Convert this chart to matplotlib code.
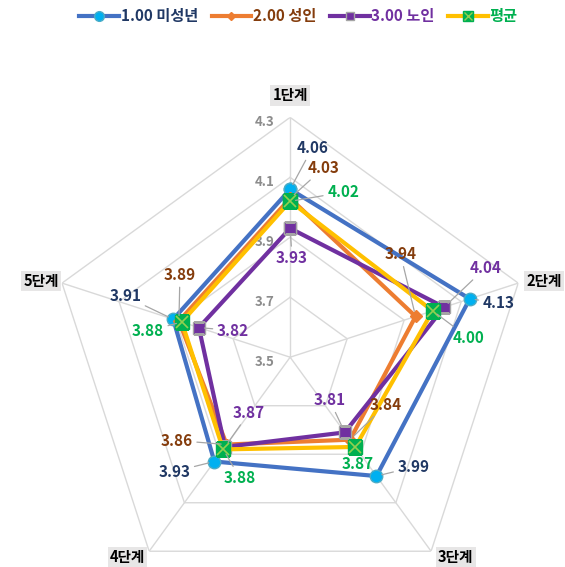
import numpy as np
import matplotlib.pyplot as plt
from matplotlib.lines import Line2D
from matplotlib.legend_handler import HandlerTuple

plt.rcParams['font.family'] = ['Noto Sans CJK KR', 'DejaVu Sans']

# data
categories = ['1단계', '2단계', '3단계', '4단계', '5단계']
series_names = ['1.00 미성년', '2.00 성인', '3.00 노인', '평균']
minor = [4.06, 4.13, 3.99, 3.93, 3.91]
adult = [4.03, 3.94, 3.84, 3.86, 3.89]
senior = [3.93, 4.04, 3.81, 3.87, 3.82]
mean = [4.02, 4.00, 3.87, 3.88, 3.88]
r_ticks = [3.5, 3.7, 3.9, 4.1, 4.3]

# styles
line_colors = ['#4472C4', '#ED7D31', '#7030A0', '#FFC000']
text_colors = ['#203864', '#843C0C', '#7030A0', '#00B050']
grid_color = '#D9D9D9'

# label offsets in pixels (dx right, dy down) for each series / axis
label_offsets = [
    [(22, -41), (29, 4), (37, -9), (-40, 10), (-48, -23)],
    [(33, -30), (-15, -62), (36, -35), (-50, -4), (1, -46)],
    [(2, 30), (41, -39), (-15, -32), (24, -34), (34, 3)],
    [(53, -9), (36, 27), (2, 17), (17, 29), (-34, 9)],
]
cat_offsets = [(0, -22), (8, -2), (7, 6), (-4, 6), (-3, -2)]
cat_ha = ['center', 'left', 'left', 'right', 'right']

theta = np.deg2rad(np.arange(len(categories)) * 72.0)
theta_c = np.append(theta, theta[0])

fig = plt.figure(figsize=(5.65, 5.67), dpi=100)
ax = fig.add_axes([0.0885, -0.053, 0.85, 0.846], projection='polar')
ax.set_theta_zero_location('N')
ax.set_theta_direction(-1)
ax.set_ylim(r_ticks[0], r_ticks[-1])
ax.set_xticks([])
ax.set_yticks([])
ax.grid(False)
ax.spines['polar'].set_visible(False)
ax.patch.set_alpha(0)

# pentagon grid
for lvl in r_ticks[1:]:
    ax.plot(theta_c, [lvl] * len(theta_c), color=grid_color, lw=1, zorder=1)
for t in theta:
    ax.plot([t, t], [r_ticks[0], r_ticks[-1]], color=grid_color, lw=1, zorder=1)

# value axis labels
for lvl in r_ticks:
    ax.annotate(f'{lvl:.1f}', xy=(0, lvl), xytext=(-16, -5), textcoords='offset pixels',
                ha='right', va='center', fontsize=9.5, color='#8C8C8C',
                fontweight='bold', zorder=1, annotation_clip=False)

# category labels
for t, cat, (dx, dy), ha in zip(theta, categories, cat_offsets, cat_ha):
    ax.annotate(cat, xy=(t, r_ticks[-1]), xytext=(dx, -dy), textcoords='offset pixels',
                ha=ha, va='center', fontsize=10.5, fontweight='bold', color='black',
                bbox=dict(boxstyle='square,pad=0.15', fc='#E7E6E6', ec='none'),
                annotation_clip=False)

all_series = [minor, adult, senior, mean]
handles = []

# series
ax.plot(theta_c, minor + [minor[0]], color=line_colors[0], lw=3, marker='o',
        ms=9, mfc='#00B0F0', mec='#4BACC6', zorder=3)
handles.append(Line2D([], [], color=line_colors[0], lw=3, marker='o', ms=7,
                      mfc='#00B0F0', mec='#4BACC6'))
ax.plot(theta_c, adult + [adult[0]], color=line_colors[1], lw=3, marker='D',
        ms=6, mfc='#ED7D31', mec='#ED7D31', zorder=4)
handles.append(Line2D([], [], color=line_colors[1], lw=3, marker='D', ms=4,
                      mfc='#ED7D31', mec='#ED7D31'))
ax.plot(theta_c, senior + [senior[0]], color=line_colors[2], lw=3, marker='s',
        ms=9, mfc='#7030A0', mec='#A5A5A5', zorder=5)
handles.append(Line2D([], [], color=line_colors[2], lw=3, marker='s', ms=6,
                      mfc='#7030A0', mec='#A5A5A5'))
ax.plot(theta_c, mean + [mean[0]], color=line_colors[3], lw=3, marker='s',
        ms=10, mfc='#00B050', mec='#00B050', zorder=6)
ax.plot(theta, mean, ls='none', marker='x', ms=9, mew=1.2, color='#92D050', zorder=7)
handles.append((Line2D([], [], color=line_colors[3], lw=3, marker='s', ms=7,
                       mfc='#00B050', mec='#00B050'),
                Line2D([], [], ls='none', marker='x', ms=6, mew=1, color='#92D050')))

# data labels
for vals, offs, col in zip(all_series, label_offsets, text_colors):
    for t, v, (dx, dy) in zip(theta, vals, offs):
        dist = np.hypot(dx, dy)
        arrow = dict(arrowstyle='-', color='#A6A6A6', lw=0.9, shrinkA=1, shrinkB=4) if dist > 28 else None
        ax.annotate(f'{v:.2f}', xy=(t, v), xytext=(dx, -dy), textcoords='offset pixels',
                    ha='center', va='center', fontsize=11, fontweight='bold', color=col,
                    arrowprops=arrow, zorder=8, annotation_clip=False)

fig.legend(handles, series_names, loc='center', bbox_to_anchor=(0.528, 0.972), ncol=4,
           frameon=False, labelcolor=text_colors, handlelength=2.6,
           handletextpad=0.1, columnspacing=0.9, prop={'weight': 'bold', 'size': 11},
           handler_map={tuple: HandlerTuple(ndivide=1)})

fig.savefig('out.png', dpi=100)
